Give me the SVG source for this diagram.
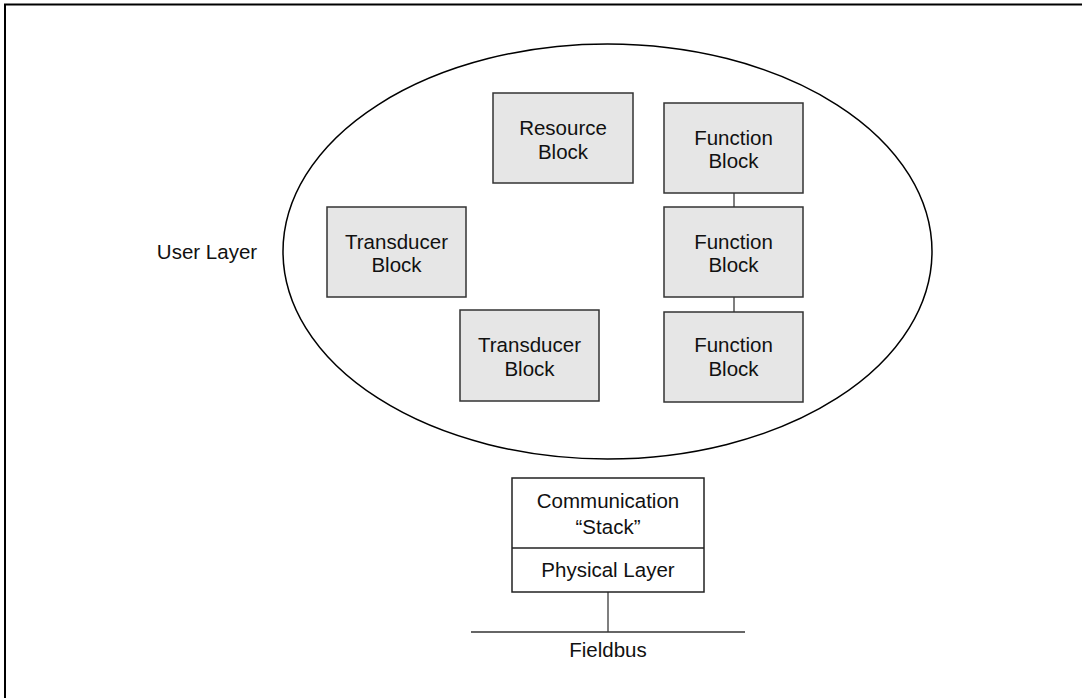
<svg xmlns="http://www.w3.org/2000/svg" width="1082" height="698" viewBox="0 0 1082 698">
<style>
.blk{fill:#e6e6e6;stroke:#333;stroke-width:1.5}
.box{fill:#fff;stroke:#222;stroke-width:1.5}
.t{font-family:"Liberation Sans",Arial,sans-serif;font-size:20.5px;fill:#111;text-anchor:middle}
.ln{stroke:#555;stroke-width:1.5;fill:none}
</style>
<rect width="1082" height="698" fill="#fff"/>
<g id="frame"><path d="M5,698 V4.5 H1082" fill="none" stroke="#000" stroke-width="2"/></g>
<g id="user-layer">
<ellipse cx="607.5" cy="251.5" rx="324.5" ry="207.5" fill="none" stroke="#000" stroke-width="1.5"/>
<text class="t" x="207" y="259">User Layer</text>
</g>
<g id="connectors">
<line class="ln" x1="734" y1="193" x2="734" y2="207"/>
<line class="ln" x1="734" y1="297" x2="734" y2="312"/>
<line class="ln" x1="608" y1="592" x2="608" y2="632"/>
<line x1="471" y1="632" x2="745" y2="632" stroke="#333" stroke-width="1.5"/>
</g>
<g id="resource-block">
<rect class="blk" x="493" y="93" width="140" height="90"/>
<text class="t" x="563" y="135">Resource</text>
<text class="t" x="563" y="159">Block</text>
</g>
<g id="function-block-1">
<rect class="blk" x="664" y="103" width="139" height="90"/>
<text class="t" x="733.5" y="145">Function</text>
<text class="t" x="733.5" y="168">Block</text>
</g>
<g id="function-block-2">
<rect class="blk" x="664" y="207" width="139" height="90"/>
<text class="t" x="733.5" y="249">Function</text>
<text class="t" x="733.5" y="272">Block</text>
</g>
<g id="function-block-3">
<rect class="blk" x="664" y="312" width="139" height="90"/>
<text class="t" x="733.5" y="352">Function</text>
<text class="t" x="733.5" y="376">Block</text>
</g>
<g id="transducer-block-1">
<rect class="blk" x="327" y="207" width="139" height="90"/>
<text class="t" x="396.5" y="249">Transducer</text>
<text class="t" x="396.5" y="272">Block</text>
</g>
<g id="transducer-block-2">
<rect class="blk" x="460" y="310" width="139" height="91"/>
<text class="t" x="529.5" y="352">Transducer</text>
<text class="t" x="529.5" y="376">Block</text>
</g>
<g id="communication-stack">
<rect class="box" x="512" y="478" width="192" height="114"/>
<line x1="512" y1="548" x2="704" y2="548" stroke="#222" stroke-width="1.5"/>
<text class="t" x="608" y="508">Communication</text>
<text class="t" x="608" y="534">“Stack”</text>
<text class="t" x="608" y="577">Physical Layer</text>
</g>
<g id="fieldbus">
<text class="t" x="608" y="657">Fieldbus</text>
</g>
</svg>
